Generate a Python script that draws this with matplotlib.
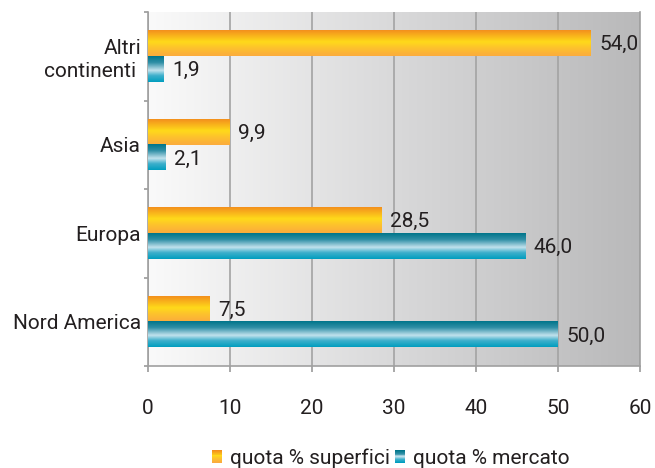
import numpy as np
import matplotlib
matplotlib.use("Agg")
import matplotlib.pyplot as plt
from matplotlib.colors import LinearSegmentedColormap
from matplotlib.legend_handler import HandlerBase
from matplotlib.patches import Rectangle

# ---- data ----
categories = ["Nord America", "Europa", "Asia", "Altri\ncontinenti "]
superfici = [7.5, 28.5, 9.9, 54.0]
mercato = [50.0, 46.0, 2.1, 1.9]
series_names = ["quota % superfici", "quota % mercato"]
xticks = [0, 10, 20, 30, 40, 50, 60]

plt.rcParams['font.family'] = ['Roboto', 'DejaVu Sans']
FS = 15
TXT = "#231f20"

orange_cmap = LinearSegmentedColormap.from_list(
    "or", [(0.0, "#f38f1d"), (0.45, "#ffda1a"), (0.7, "#fdc12e"), (1.0, "#fbab3e")])
teal_cmap = LinearSegmentedColormap.from_list(
    "tl", [(0.0, "#00758a"), (0.25, "#2f8fa6"), (0.55, "#c2e2ed"), (0.75, "#3fb0cc"), (1.0, "#009dbf")])
bg_cmap = LinearSegmentedColormap.from_list("bg", ["#fafafa", "#d9d9da", "#b9b9ba"])

fig = plt.figure(figsize=(6.55, 4.68), dpi=100)
ax = fig.add_axes([148/655, 102/468, 492/655, 354/468])
ax.set_facecolor("none")

y = np.arange(len(categories))
h = 0.29
b1 = ax.barh(y + h/2, superfici, height=h, color="#fcc22b", zorder=3)
b2 = ax.barh(y - h/2, mercato, height=h, color="#3aa6c2", zorder=3)

grad = np.linspace(0, 1, 256).reshape(-1, 1)
for bars, cmap in ((b1, orange_cmap), (b2, teal_cmap)):
    for p in bars:
        x0, y0 = p.get_x(), p.get_y()
        w, hh = p.get_width(), p.get_height()
        ax.imshow(grad, cmap=cmap, extent=[x0, x0 + w, y0, y0 + hh], origin="upper",
                  aspect="auto", interpolation="bilinear", zorder=3.5)

# background gradient
ax.imshow(np.linspace(0, 1, 256).reshape(1, -1), cmap=bg_cmap, extent=[0, 1, 0, 1],
          transform=ax.transAxes, aspect="auto", interpolation="bilinear", zorder=0)

def fmt(v):
    return f"{v:.1f}".replace(".", ",")

for bars, vals in ((b1, superfici), (b2, mercato)):
    for p, v in zip(bars, vals):
        ax.annotate(fmt(v), (p.get_x() + p.get_width(), p.get_y() + p.get_height()/2),
                    xytext=(6, -1), textcoords="offset points", ha="left", va="center",
                    fontsize=FS, color=TXT, zorder=5)

ax.set_xlim(0, 60)
ax.set_ylim(-0.5, len(categories) - 0.5)
ax.set_xticks(xticks)
ax.set_xticklabels([str(t) for t in xticks])
ax.set_yticks(y)
ax.set_yticklabels(categories, fontsize=FS, color=TXT, linespacing=1.25)
ax.set_yticks(np.arange(-0.5, len(categories), 1.0), minor=True)
ax.tick_params(axis="y", which="major", length=0, pad=5)
ax.tick_params(axis="y", which="minor", length=3, width=1.2, color="#9a9a9a")
ax.tick_params(axis="x", length=4, width=1.2, color="#9a9a9a", labelsize=FS,
               labelcolor=TXT, pad=20)

ax.grid(axis="x", color="#a3a3a3", linewidth=1.2, zorder=1)
for s in ("left", "bottom", "right"):
    ax.spines[s].set_color("#a0a0a0")
    ax.spines[s].set_linewidth(1.2)
ax.spines["top"].set_visible(False)


class GradHandler(HandlerBase):
    def __init__(self, cmap):
        super().__init__()
        self.cmap = cmap

    def create_artists(self, legend, orig_handle, xdescent, ydescent, width, height,
                       fontsize, trans):
        n = 14
        hh = 9.5
        y0 = -ydescent + height/2 - hh/2
        arts = []
        for i in range(n):
            c = self.cmap(i/(n - 1))
            r = Rectangle((-xdescent, y0 + hh*(n - 1 - i)/n), width, hh/n + 0.05,
                          facecolor=c, edgecolor="none", transform=trans)
            arts.append(r)
        return arts


hs = [Rectangle((0, 0), 1, 1), Rectangle((0, 0), 1, 1)]
fig.legend(hs, series_names, loc="center", bbox_to_anchor=(391/655, 1 - 458/468),
           ncol=2, frameon=False, fontsize=FS, labelcolor=TXT,
           handler_map={hs[0]: GradHandler(orange_cmap), hs[1]: GradHandler(teal_cmap)},
           handlelength=0.45, handletextpad=0.4, columnspacing=0.25, borderpad=0,
           borderaxespad=0)

fig.savefig("out.png", dpi=100)
